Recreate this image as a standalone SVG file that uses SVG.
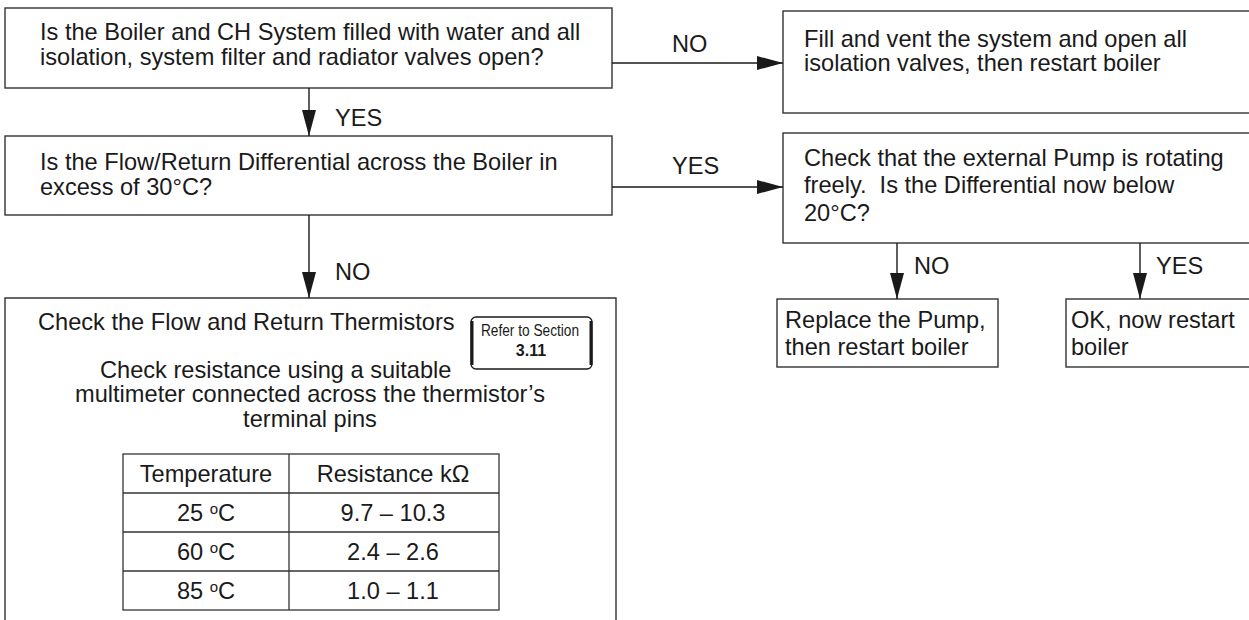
<svg xmlns="http://www.w3.org/2000/svg" width="1249" height="620" viewBox="0 0 1249 620">
<defs>
<marker id="ah" markerWidth="26" markerHeight="14" refX="26" refY="7" orient="auto" markerUnits="userSpaceOnUse">
<path d="M0,0 L26,7 L0,14 Z" fill="#1a1a1a"/>
</marker>
<style>
.box{fill:#fff;stroke:#333;stroke-width:1.4}
.t{font-family:"Liberation Sans",Arial,sans-serif;font-size:23.6px;fill:#1a1a1a}
.c{text-anchor:middle}
.con{stroke:#1a1a1a;stroke-width:1.4;fill:none;marker-end:url(#ah)}
.grid{stroke:#333;stroke-width:1.3;fill:none}
</style>
</defs>
<rect width="1249" height="620" fill="#fff"/>
<g id="n1">
<rect class="box" x="5" y="8" width="607" height="80"/>
<text class="t" x="40" y="40">Is the Boiler and CH System filled with water and all</text>
<text class="t" x="40" y="65">isolation, system filter and radiator valves open?</text>
</g>
<g id="n2">
<rect class="box" x="783" y="11" width="480" height="102"/>
<text class="t" x="804" y="47">Fill and vent the system and open all</text>
<text class="t" x="804" y="71">isolation valves, then restart boiler</text>
</g>
<g id="n3">
<rect class="box" x="5" y="136" width="607" height="79"/>
<text class="t" x="40" y="170">Is the Flow/Return Differential across the Boiler in</text>
<text class="t" x="40" y="195">excess of 30°C?</text>
</g>
<g id="n4">
<rect class="box" x="783" y="133" width="480" height="110"/>
<text class="t" x="804" y="166">Check that the external Pump is rotating</text>
<text class="t" x="804" y="193">freely.&#160; Is the Differential now below</text>
<text class="t" x="804" y="221">20°C?</text>
</g>
<g id="n5">
<rect class="box" x="777" y="299" width="221" height="68"/>
<text class="t" x="785" y="328">Replace the Pump,</text>
<text class="t" x="785" y="355">then restart boiler</text>
</g>
<g id="n6">
<rect class="box" x="1066" y="299" width="200" height="68"/>
<text class="t" x="1071" y="328">OK, now restart</text>
<text class="t" x="1071" y="355">boiler</text>
</g>
<g id="n7">
<path class="box" d="M5,625 V298 H616 V625"/>
<text class="t" x="38" y="330">Check the Flow and Return Thermistors</text>
<text class="t" x="100" y="378">Check resistance using a suitable</text>
<text class="t c" x="310" y="402">multimeter connected across the thermistor’s</text>
<text class="t c" x="310" y="427">terminal pins</text>
<g id="ref">
<rect x="471" y="317" width="121" height="52" rx="5" fill="#fff" stroke="#1a1a1a" stroke-width="1.3"/>
<line x1="472" y1="321" x2="472" y2="365" stroke="#1a1a1a" stroke-width="3"/>
<line x1="591" y1="321" x2="591" y2="365" stroke="#1a1a1a" stroke-width="3"/>
<text x="530" y="336" text-anchor="middle" textLength="98" lengthAdjust="spacingAndGlyphs" style="font-family:'Liberation Sans',Arial,sans-serif;font-size:16px;fill:#1a1a1a">Refer to Section</text>
<text x="531" y="356" text-anchor="middle" style="font-family:'Liberation Sans',Arial,sans-serif;font-size:16px;font-weight:bold;fill:#1a1a1a">3.11</text>
</g>
<g id="table">
<rect class="grid" x="123" y="454" width="376" height="156"/>
<line class="grid" x1="289" y1="454" x2="289" y2="610"/>
<line class="grid" x1="123" y1="493" x2="499" y2="493"/>
<line class="grid" x1="123" y1="532" x2="499" y2="532"/>
<line class="grid" x1="123" y1="571" x2="499" y2="571"/>
<text class="t c" x="206" y="482">Temperature</text>
<text class="t c" x="393" y="482">Resistance kΩ</text>
<text class="t c" x="206" y="521">25 <tspan font-size="15" dy="-7">o</tspan><tspan dy="7">C</tspan></text>
<text class="t c" x="393" y="521">9.7 – 10.3</text>
<text class="t c" x="206" y="560">60 <tspan font-size="15" dy="-7">o</tspan><tspan dy="7">C</tspan></text>
<text class="t c" x="393" y="560">2.4 – 2.6</text>
<text class="t c" x="206" y="599">85 <tspan font-size="15" dy="-7">o</tspan><tspan dy="7">C</tspan></text>
<text class="t c" x="393" y="599">1.0 – 1.1</text>
</g>
</g>
<g id="connectors">
<line class="con" x1="612" y1="63" x2="783" y2="63"/>
<text class="t" x="672" y="52">NO</text>
<line class="con" x1="309" y1="88" x2="309" y2="136"/>
<text class="t" x="335" y="126">YES</text>
<line class="con" x1="612" y1="187" x2="783" y2="187"/>
<text class="t" x="672" y="174">YES</text>
<line class="con" x1="309" y1="215" x2="309" y2="298"/>
<text class="t" x="335" y="280">NO</text>
<line class="con" x1="897" y1="243" x2="897" y2="299"/>
<text class="t" x="914" y="274">NO</text>
<line class="con" x1="1140" y1="243" x2="1140" y2="299"/>
<text class="t" x="1156" y="274">YES</text>
</g>
</svg>
